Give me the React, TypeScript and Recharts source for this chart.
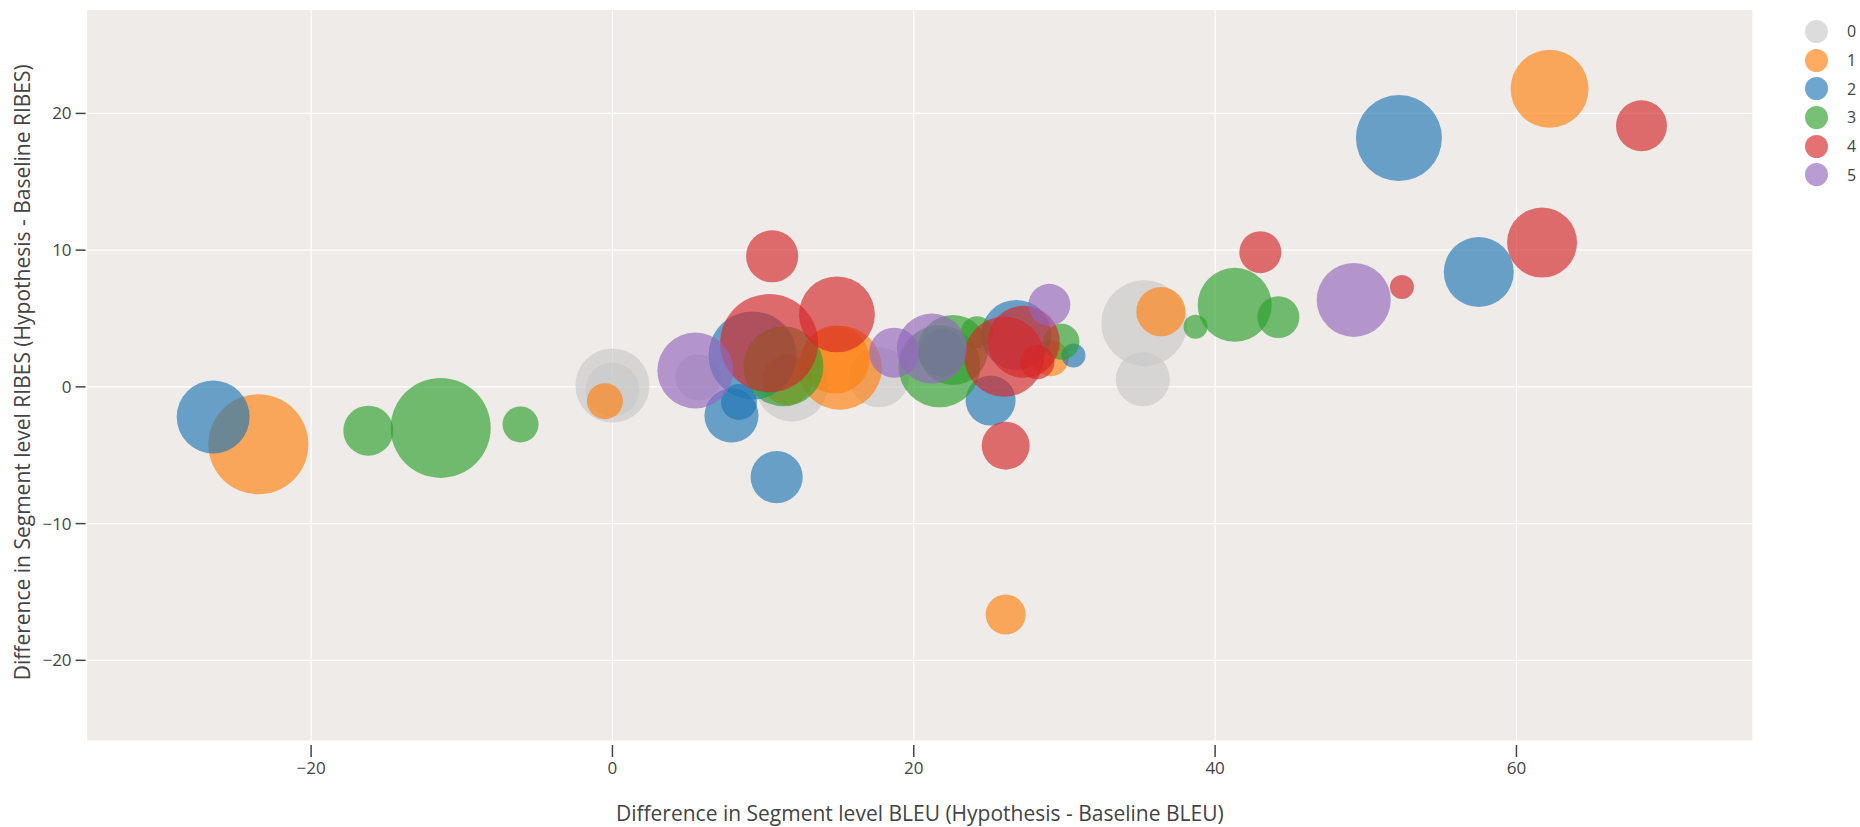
import { ScatterChart, Scatter, XAxis, YAxis, ZAxis, CartesianGrid } from 'recharts';

// each point: [BLEU diff, RIBES diff, bubble size]
const group0: [number, number, number][] = [
  [0, 0.1, 1370], [0, -0.2, 730], [5.7, 0.7, 530], [11.9, 0.1, 1300],
  [17.7, 0.7, 900], [35.3, 4.66, 1850], [35.2, 0.56, 730],
];
const group1: [number, number, number][] = [
  [-23.5, -4.2, 2500], [-0.5, -1.05, 324], [11.6, 0.5, 625], [15.1, 1.4, 1760],
  [14.8, 2.0, 1160], [36.4, 5.5, 605], [62.2, 21.8, 1520], [26.1, -16.65, 400],
  [29.1, 2.1, 324],
];
const group2: [number, number, number][] = [
  [-26.5, -2.2, 1330], [9.3, 2.3, 1940], [8.4, -1.1, 324], [7.9, -2.1, 730],
  [10.9, -6.6, 680], [21.9, 2.5, 576], [26.8, 3.8, 1225], [25.1, -1.0, 625],
  [30.6, 2.3, 144], [57.5, 8.4, 1225], [52.2, 18.2, 1850],
];
const group3: [number, number, number][] = [
  [-16.2, -3.2, 625], [-11.4, -3.0, 2500], [-6.1, -2.75, 324], [11.35, 1.5, 1600],
  [21.7, 1.5, 1680], [22.6, 2.7, 1225], [24.2, 4.0, 256], [29.8, 3.3, 324],
  [38.7, 4.4, 144], [41.3, 6.0, 1370], [44.2, 5.1, 440],
];
const group4: [number, number, number][] = [
  [10.6, 9.55, 680], [10.4, 3.2, 2400], [14.9, 5.3, 1440], [26.0, 2.2, 1600],
  [27.3, 3.3, 1300], [28.2, 1.8, 290], [26.1, -4.3, 576], [43.0, 9.85, 440],
  [52.4, 7.3, 144], [61.7, 10.55, 1225], [68.3, 19.1, 650],
];
const group5: [number, number, number][] = [
  [5.5, 1.2, 1440], [18.7, 2.5, 625], [21.2, 2.8, 1225], [29.0, 6.0, 440],
  [49.2, 6.36, 1370],
];

const groupNames = ['0', '1', '2', '3', '4', '5'];
const groupColors = ['#c9c9c9', '#ff7f0e', '#1f77b4', '#2ca02c', '#d62728', '#9467bd'];
const groups = [group0, group1, group2, group3, group4, group5];

const xTicks = [-20, 0, 20, 40, 60];
const yTicks = [-20, -10, 0, 10, 20];

const FONT = '"Open Sans", sans-serif';
const INK = '#444';

const fmt = (v: number) => (v < 0 ? '\u2212' + Math.abs(v) : String(v));

const XTick = ({ x, y, payload }: any) => (
  <g>
    <line x1={x} x2={x} y1={y + 4} y2={y + 16} stroke={INK} strokeWidth={1.5} />
    <text x={x} y={y + 33} textAnchor="middle" fill={INK} fontSize={17} fontFamily={FONT}>
      {fmt(payload.value)}
    </text>
  </g>
);

const YTick = ({ x, y, payload }: any) => (
  <g>
    <line x1={x - 11} x2={x - 1} y1={y} y2={y} stroke={INK} strokeWidth={1.5} />
    <text x={x - 15} y={y + 6} textAnchor="end" fill={INK} fontSize={17} fontFamily={FONT}>
      {fmt(payload.value)}
    </text>
  </g>
);

const XTitle = ({ viewBox }: any) => (
  <text
    x={viewBox.x + viewBox.width / 2}
    y={viewBox.y + viewBox.height - 6}
    textAnchor="middle"
    fill={INK}
    fontSize={21}
    fontFamily={FONT}
  >
    Difference in Segment level BLEU (Hypothesis - Baseline BLEU)
  </text>
);

const YTitle = ({ viewBox }: any) => {
  const cx = viewBox.x + 22.5;
  const cy = viewBox.y + viewBox.height / 2 - 3;
  return (
    <text
      x={cx}
      y={cy}
      dy="0.35em"
      transform={`rotate(-90, ${cx}, ${cy})`}
      textAnchor="middle"
      fill={INK}
      fontSize={21}
      fontFamily={FONT}
    >
      Difference in Segment level RIBES (Hypothesis - Baseline RIBES)
    </text>
  );
};

export default function App() {
  const series = groups.map((g) => g.map(([x, y, s]) => ({ x, y, s })));

  return (
    <div style={{ position: 'absolute', left: 0, top: 0, width: 1860, height: 827, overflow: 'hidden', background: '#fff' }}>
      <ScatterChart width={1860} height={827} margin={{ top: 9.5, right: 107, bottom: 0, left: 0 }}>
        <CartesianGrid fill="#eeebe8" stroke="#ffffff" strokeWidth={1.2} />
        <XAxis
          type="number"
          dataKey="x"
          domain={[-34.9, 75.7]}
          allowDataOverflow
          ticks={xTicks}
          height={86}
          tickSize={0}
          tickMargin={0}
          tickLine={false}
          axisLine={false}
          tick={<XTick />}
          label={<XTitle />}
        />
        <YAxis
          type="number"
          dataKey="y"
          domain={[-25.9, 27.6]}
          allowDataOverflow
          ticks={yTicks}
          width={86.6}
          tickSize={0}
          tickMargin={0}
          tickLine={false}
          axisLine={false}
          tick={<YTick />}
          label={<YTitle />}
        />
        <ZAxis type="number" dataKey="s" domain={[0, 2500]} range={[0, 2500 * Math.PI]} />
        {series.map((data, i) => (
          <Scatter
            key={groupNames[i]}
            name={groupNames[i]}
            data={data}
            fill={groupColors[i]}
            fillOpacity={0.65}
            isAnimationActive={false}
          />
        ))}
      </ScatterChart>
      <div style={{ position: 'absolute', left: 1805, top: 17, fontFamily: FONT, fontSize: 16, color: INK }}>
        {groupNames.map((n, i) => (
          <div key={n} style={{ display: 'flex', alignItems: 'center', height: 28.7 }}>
            <span
              style={{
                width: 23,
                height: 23,
                borderRadius: '50%',
                background: groupColors[i],
                opacity: 0.65,
                display: 'inline-block',
              }}
            />
            <span style={{ marginLeft: 19 }}>{n}</span>
          </div>
        ))}
      </div>
    </div>
  );
}
